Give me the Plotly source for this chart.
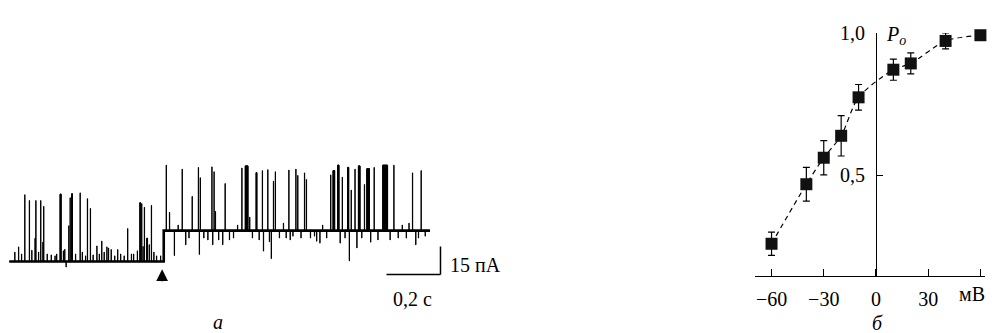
import numpy as np
import plotly.graph_objects as go

# ---------------- Panel a: single-channel recording ----------------
step_time = 0.572          # s, moment of the step (arrow)
trace_end = 1.558          # s
base_levels = [0.0, 16.5]  # pA, closed level before / after the step

# events: onset time (s), amplitude relative to local closed level (pA), duration (s)
ev_t = [0.020, 0.034, 0.045, 0.057, 0.074, 0.083, 0.095, 0.098, 0.108, 0.116, 0.124, 0.127,
        0.140, 0.155, 0.169, 0.175, 0.188, 0.200, 0.205, 0.210, 0.220, 0.225, 0.231, 0.245,
        0.262, 0.270, 0.282, 0.289, 0.300, 0.310, 0.324, 0.333, 0.342, 0.351, 0.361, 0.367,
        0.377, 0.390, 0.401, 0.412, 0.425, 0.438, 0.452, 0.460, 0.474, 0.484, 0.490, 0.495,
        0.500, 0.509, 0.518, 0.526, 0.535, 0.545, 0.560,
        0.581, 0.593, 0.611, 0.625, 0.640, 0.653, 0.665, 0.677, 0.700, 0.7035, 0.707, 0.720,
        0.735, 0.750, 0.753, 0.758, 0.763, 0.775, 0.790, 0.799, 0.815, 0.830, 0.845, 0.861,
        0.874, 0.890, 0.900, 0.914, 0.925, 0.937, 0.941, 0.957, 0.963, 0.970, 0.978, 0.985,
        1.000, 1.015, 1.025, 1.035, 1.040, 1.050, 1.061, 1.068, 1.080, 1.093, 1.100, 1.115,
        1.130, 1.138, 1.150, 1.160, 1.175, 1.190, 1.199, 1.216, 1.225, 1.233, 1.243, 1.253,
        1.259, 1.266, 1.280, 1.287, 1.293, 1.305, 1.315, 1.324, 1.338, 1.351, 1.365, 1.383,
        1.410, 1.424, 1.440, 1.455, 1.470, 1.480, 1.493, 1.505, 1.515, 1.525, 1.540]
ev_amp = [5.0, 7.8, 4.0, 35.7, 32.6, 6.0, 12.4, 32.6, 5.0, 32.6, 10.3, 29.5,
          4.0, 3.5, 3.0, 4.0, 36.0, 5.7, 6.5, -3.0, 19.1, 34.1, 36.2, 4.0,
          36.7, 5.0, 3.0, 33.6, 28.4, 3.5, 8.3, 4.0, 10.9, 5.0, 7.8, 7.2,
          6.4, 3.0, 6.4, 4.0, 3.0, 17.6, 4.0, 4.0, 5.7, 31.5, 31.0, 8.0,
          29.0, 12.4, 9.0, 30.0, 5.0, 3.0, 3.0,
          35.0, 9.8, -13.4, 3.0, 32.9, -7.6, -4.0, 18.3, 33.8, -12.8, 28.3, -4.0,
          -5.0, 34.1, -7.6, 31.5, 10.3, -5.0, -7.6, 25.2, -5.0, -4.0, 3.0, 33.5,
          34.6, 7.2, -4.0, 31.0, -5.0, 32.1, -11.0, 32.6, -6.0, -15.0, 26.4, 31.5,
          -4.0, 4.0, -4.0, 32.4, -5.0, -3.0, 32.9, 29.5, -4.0, 30.9, 27.4, -4.0,
          -3.0, -5.7, -6.7, 3.0, -4.0, 29.8, 32.1, 35.0, -6.7, 28.6, -4.0, 33.8,
          -16.2, 21.7, 32.9, -9.3, 34.6, -4.0, 24.7, 33.1, -6.2, 33.8, -5.0, 35.0,
          -5.0, 35.0, -4.0, 3.0, -4.0, 4.0, 30.9, -7.6, -4.0, 32.1, -3.0]
ev_dur = [0.001] * len(ev_t)
long_events = {0.188: 0.004, 0.231: 0.003, 0.484: 0.002, 0.509: 0.003, 0.874: 0.010,
               0.914: 0.003, 1.199: 0.006, 1.216: 0.005, 1.253: 0.004, 1.293: 0.006,
               1.324: 0.010, 1.383: 0.018}
for i, t in enumerate(ev_t):
    if t in long_events:
        ev_dur[i] = long_events[t]

def base_at(t):
    return base_levels[0] if t < step_time else base_levels[1]

tx, ty = [0.0], [base_levels[0]]
bx, by = [], []   # filled bursts
stepped = False
for t, a, d in sorted(zip(ev_t, ev_amp, ev_dur)):
    if not stepped and t >= step_time:
        tx += [step_time, step_time]
        ty += [base_levels[0], base_levels[1]]
        stepped = True
    b = base_at(t)
    tx += [t, t, t + d, t + d]
    ty += [b, b + a, b + a, b]
    if d > 0.0015:
        bx += [t, t, t + d, t + d, t, None]
        by += [b, b + a, b + a, b, b, None]
tx.append(trace_end)
ty.append(base_levels[1])

# ---------------- Panel б: open probability vs voltage ----------------
volt = [-60, -40, -30, -20, -10, 10, 20, 40, 60]
p_open = [0.26, 0.469, 0.562, 0.639, 0.774, 0.871, 0.893, 0.972, 0.992]
p_err = [0.041, 0.059, 0.060, 0.071, 0.045, 0.037, 0.037, 0.028, 0.0]
x_ticks = [-60, -30, 0, 30, 60]
x_ticktext = ["\u221260", "\u221230", "0", "30", " "]
y_ticks = [0.5, 1.0]
y_ticktext = ["0,5", "1,0"]

W, H = 993, 333
FONT = "Liberation Serif"
FS = 20
s_per_px = 0.2 / 54.0
pa_per_px = 15.0 / 29.0

fig = go.Figure()

# thick closed-level line (noise band)
fig.add_trace(go.Scatter(x=[0.0, step_time, step_time, trace_end],
                         y=[base_levels[0], base_levels[0], base_levels[1], base_levels[1]],
                         mode="lines", line=dict(color="black", width=2.6),
                         xaxis="x", yaxis="y", showlegend=False, hoverinfo="skip"))
fig.add_trace(go.Scatter(x=tx, y=ty, mode="lines", line=dict(color="black", width=1),
                         xaxis="x", yaxis="y", showlegend=False, hoverinfo="skip"))
fig.add_trace(go.Scatter(x=bx, y=by, mode="lines", fill="toself", fillcolor="black",
                         line=dict(color="black", width=1),
                         xaxis="x", yaxis="y", showlegend=False, hoverinfo="skip"))

# fitted dashed curve & data
fig.add_trace(go.Scatter(x=volt, y=p_open, mode="lines",
                         line=dict(color="black", width=1.2, dash="5px,4px", shape="spline", smoothing=0.8),
                         xaxis="x2", yaxis="y2", showlegend=False, cliponaxis=False))
fig.add_trace(go.Scatter(x=volt, y=p_open, mode="markers",
                         marker=dict(symbol="square", size=12, color="#111111"),
                         error_y=dict(type="data", array=p_err, visible=True, color="black",
                                      thickness=1.2, width=3.5),
                         xaxis="x2", yaxis="y2", showlegend=False, cliponaxis=False))

x_lo = -9.3 * s_per_px
x_hi = (0.5 * W - 9.3) * s_per_px
y_lo = (259 - 290) * pa_per_px
y_hi = (259 - 140) * pa_per_px

fig.update_layout(
    width=W, height=H, margin=dict(l=0, r=0, t=0, b=0),
    paper_bgcolor="white", plot_bgcolor="white",
    font=dict(family=FONT, size=FS, color="black"),
    xaxis=dict(domain=[0, 0.5], range=[x_lo, x_hi], visible=False),
    yaxis=dict(domain=[(H - 290) / H, (H - 140) / H], range=[y_lo, y_hi], visible=False),
    xaxis2=dict(domain=[755 / W, 984.75 / W], range=[-69.5, 62.5], anchor="y2",
                showline=True, linecolor="black", linewidth=1.2, ticks="inside", ticklen=7,
                tickwidth=1.2, tickcolor="black", tickvals=x_ticks, ticktext=x_ticktext,
                showgrid=False, zeroline=False, ticklabelstandoff=5,
                tickfont=dict(family=FONT, size=FS)),
    yaxis2=dict(domain=[(H - 274) / H, (H - 22.7) / H], range=[0.147, 1.0], anchor="free",
                position=876 / W, showline=True, linecolor="black", linewidth=1.2,
                ticks="inside", ticklen=6, tickwidth=1.2, tickcolor="black",
                tickvals=y_ticks, ticktext=y_ticktext, showgrid=False, zeroline=False,
                ticklabelstandoff=7, tickfont=dict(family=FONT, size=FS)),
)

# scale bars (0.2 s, 15 pA)
bar_t1 = 1.597
bar_y0 = (259 - 272.5) * pa_per_px
fig.add_shape(type="line", xref="x", yref="y", x0=bar_t1 - 0.2, x1=bar_t1, y0=bar_y0, y1=bar_y0,
              line=dict(color="black", width=1.5))
fig.add_shape(type="line", xref="x", yref="y", x0=bar_t1, x1=bar_t1, y0=bar_y0, y1=bar_y0 + 15,
              line=dict(color="black", width=1.5))

# arrow marking the step
fig.add_annotation(x=step_time - 0.006, y=(259 - 267) * pa_per_px, xref="x", yref="y",
                   ax=step_time - 0.006, ay=(259 - 281) * pa_per_px, axref="x", ayref="y",
                   text="", showarrow=True, arrowhead=2, arrowsize=1.3, arrowwidth=1.8,
                   arrowcolor="black", standoff=0, startstandoff=0)

def txt(s, x, y, xa="center", size=FS):
    fig.add_annotation(text=s, x=x / W, y=(H - y) / H, xref="paper", yref="paper",
                       xanchor=xa, yanchor="middle", showarrow=False,
                       font=dict(family=FONT, size=size, color="black"))

txt("15 пА", 448, 263, xa="left")
txt("0,2 с", 412, 298)
txt("<i>а</i>", 218, 322)
txt("<i>б</i>", 877, 323)
txt("мВ", 972, 293)
txt("<i>P</i><sub><i>o</i></sub>", 884, 25, xa="left")

fig.write_html("out.html", config={"displayModeBar": False},
               post_script="document.body.style.margin='0';document.body.style.overflow='hidden';")
